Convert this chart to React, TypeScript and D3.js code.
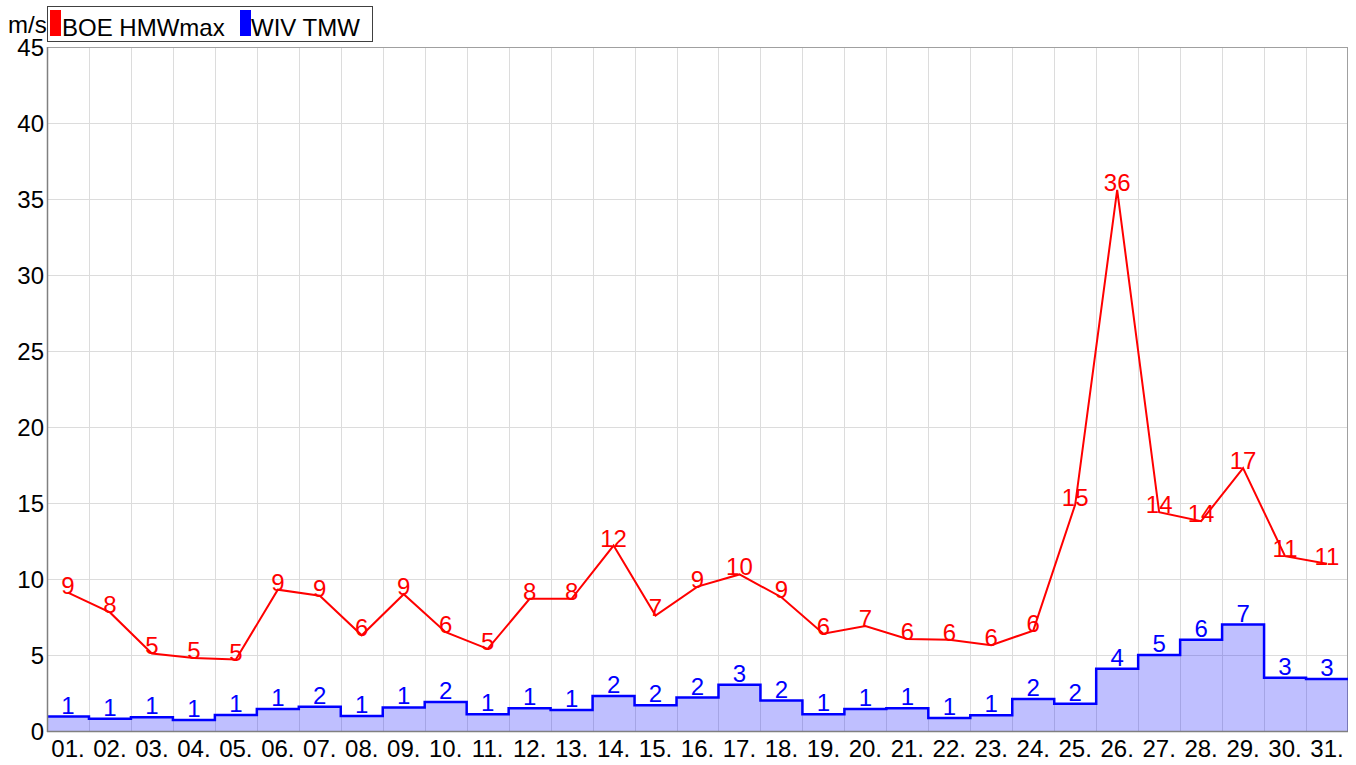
import React from "react";
import * as d3 from "d3";

// day labels on the x axis
const days = [
  "01", "02", "03", "04", "05", "06", "07", "08", "09", "10",
  "11", "12", "13", "14", "15", "16", "17", "18", "19", "20",
  "21", "22", "23", "24", "25", "26", "27", "28", "29", "30", "31",
];

// BOE HMWmax (m/s), red line
const hmwMax = [
  9.1, 7.8, 5.1, 4.8, 4.7, 9.3, 8.9, 6.3, 9.0, 6.5,
  5.4, 8.7, 8.7, 12.2, 7.6, 9.5, 10.3, 8.8, 6.4, 6.9,
  6.05, 6.0, 5.65, 6.6, 14.9, 35.6, 14.4, 13.8, 17.3, 11.5, 11.0,
];
const hmwLabels = [
  9, 8, 5, 5, 5, 9, 9, 6, 9, 6, 5, 8, 8, 12, 7, 9, 10, 9, 6, 7,
  6, 6, 6, 6, 15, 36, 14, 14, 17, 11, 11,
];

// WIV TMW (m/s), blue steps
const tmw = [
  0.95, 0.8, 0.9, 0.72, 1.05, 1.45, 1.6, 0.98, 1.55, 1.9,
  1.1, 1.5, 1.38, 2.3, 1.7, 2.2, 3.05, 2.0, 1.1, 1.45,
  1.5, 0.85, 1.03, 2.1, 1.8, 4.1, 5.0, 6.0, 7.0, 3.5, 3.42,
];
const tmwLabels = [
  1, 1, 1, 1, 1, 1, 2, 1, 1, 2, 1, 1, 1, 2, 2, 2, 3, 2, 1, 1,
  1, 1, 1, 2, 2, 4, 5, 6, 7, 3, 3,
];

const yTicks = [0, 5, 10, 15, 20, 25, 30, 35, 40, 45];

const FONT = "'Liberation Sans', Arial, sans-serif";

const App: React.FC = () => {
  const width = 1356;
  const height = 765;
  const margin = { top: 47, right: 8, bottom: 34, left: 47 };
  const x0 = margin.left;
  const x1 = width - margin.right;
  const y0 = height - margin.bottom;
  const y1 = margin.top;

  const x = d3.scaleBand().domain(days).range([x0, x1]).padding(0);
  const y = d3.scaleLinear().domain([0, 45]).range([y0, y1]);
  const bw = x.bandwidth();

  // red line through band centers
  const redLine = d3
    .line<number>()
    .x((_, i) => x(days[i])! + bw / 2)
    .y((d) => y(d))(hmwMax)!;

  // blue step: flat across each band
  const stepPts: [number, number][] = [];
  tmw.forEach((v, i) => {
    stepPts.push([x(days[i])!, y(v)]);
    stepPts.push([x(days[i])! + bw, y(v)]);
  });
  const stepLine = d3.line()(stepPts)!;
  const stepArea = d3
    .area<[number, number]>()
    .x((d) => d[0])
    .y0(y(0))
    .y1((d) => d[1])(stepPts)!;

  return (
    <svg
      width={width}
      height={height}
      style={{ position: "absolute", left: 0, top: 0, background: "#fff" }}
      fontFamily={FONT}
    >
      {/* grid */}
      <g stroke="#dcdcdc" strokeWidth={1}>
        {yTicks.map((t) => (
          <line key={"h" + t} x1={x0} x2={x1} y1={Math.round(y(t)) + 0.5} y2={Math.round(y(t)) + 0.5} />
        ))}
        {days.slice(1).map((d) => (
          <line key={"v" + d} x1={Math.round(x(d)!) + 0.5} x2={Math.round(x(d)!) + 0.5} y1={y1} y2={y0} />
        ))}
      </g>

      {/* frame */}
      <line x1={x0} x2={x1} y1={y1 + 0.5} y2={y1 + 0.5} stroke="#a0a0a0" />
      <line x1={x1 - 0.5} x2={x1 - 0.5} y1={y1} y2={y0} stroke="#a0a0a0" />

      {/* blue steps */}
      <path d={stepArea} fill="#0000ff" fillOpacity={0.25} />
      <path d={stepLine} fill="none" stroke="#0000ff" strokeWidth={2.5} />

      {/* red line */}
      <path d={redLine} fill="none" stroke="#ff0000" strokeWidth={2} />

      {/* axes */}
      <line x1={x0 + 0.5} x2={x0 + 0.5} y1={y1} y2={y0 + 1} stroke="#808080" strokeWidth={1.5} />
      <line x1={x0} x2={x1} y1={y0 + 0.5} y2={y0 + 0.5} stroke="#808080" strokeWidth={1.5} />

      {/* data labels */}
      <g fontSize={24} textAnchor="middle" fill="#0000ff">
        {tmw.map((v, i) => (
          <text key={"bl" + i} x={x(days[i])! + bw / 2} y={y(v) - 3}>
            {tmwLabels[i]}
          </text>
        ))}
      </g>
      <g fontSize={24} textAnchor="middle" fill="#ff0000">
        {hmwMax.map((v, i) => (
          <text key={"rl" + i} x={x(days[i])! + bw / 2} y={y(v) + 1}>
            {hmwLabels[i]}
          </text>
        ))}
      </g>

      {/* y ticks */}
      <g fontSize={24} textAnchor="end" fill="#000">
        {yTicks.map((t) => (
          <text key={"yt" + t} x={x0 - 3} y={y(t)} dy="0.36em">
            {t}
          </text>
        ))}
      </g>

      {/* x ticks */}
      <g fontSize={24} textAnchor="middle" fill="#000">
        {days.map((d) => (
          <text key={"xt" + d} x={x(d)! + bw / 2} y={757}>
            {d + "."}
          </text>
        ))}
      </g>

      {/* unit */}
      <text x={8} y={33} fontSize={24} fill="#000">m/s</text>

      {/* legend */}
      <rect x={47.5} y={6.5} width={325} height={35} fill="#fff" stroke="#404040" />
      <rect x={50} y={10} width={11} height={26} fill="#ff0000" />
      <text x={62} y={36} fontSize={24} fill="#000">BOE HMWmax</text>
      <rect x={240} y={10} width={11} height={26} fill="#0000ff" />
      <text x={251} y={36} fontSize={24} fill="#000">WIV TMW</text>
    </svg>
  );
};

export default App;
